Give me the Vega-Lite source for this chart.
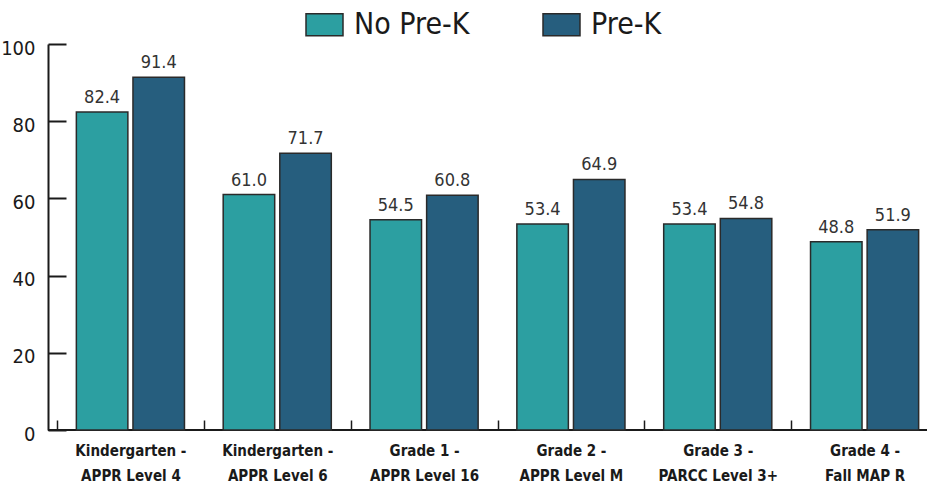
{
  "$schema": "https://vega.github.io/schema/vega-lite/v6.json",
  "width": 879,
  "height": 386,
  "autosize": {"type": "none"},
  "padding": {"left": 48, "top": 44, "right": 0, "bottom": 57},
  "background": "white",
  "config": {
    "font": "DejaVu Sans Condensed, Liberation Sans Narrow, sans-serif",
    "view": {"stroke": null}
  },
  "data": {
    "values": [
      {"cat": "Kindergarten -|APPR Level 4", "group": "No Pre-K", "value": 82.4},
      {"cat": "Kindergarten -|APPR Level 4", "group": "Pre-K", "value": 91.4},
      {"cat": "Kindergarten -|APPR Level 6", "group": "No Pre-K", "value": 61.0},
      {"cat": "Kindergarten -|APPR Level 6", "group": "Pre-K", "value": 71.7},
      {"cat": "Grade 1 -|APPR Level 16", "group": "No Pre-K", "value": 54.5},
      {"cat": "Grade 1 -|APPR Level 16", "group": "Pre-K", "value": 60.8},
      {"cat": "Grade 2 -|APPR Level M", "group": "No Pre-K", "value": 53.4},
      {"cat": "Grade 2 -|APPR Level M", "group": "Pre-K", "value": 64.9},
      {"cat": "Grade 3 -|PARCC Level 3+", "group": "No Pre-K", "value": 53.4},
      {"cat": "Grade 3 -|PARCC Level 3+", "group": "Pre-K", "value": 54.8},
      {"cat": "Grade 4 -|Fall MAP R", "group": "No Pre-K", "value": 48.8},
      {"cat": "Grade 4 -|Fall MAP R", "group": "Pre-K", "value": 51.9}
    ]
  },
  "encoding": {
    "x": {
      "field": "cat",
      "type": "nominal",
      "sort": null,
      "scale": {"range": [9, 890], "paddingInner": 0, "paddingOuter": 0},
      "axis": {
        "title": null,
        "labelAngle": 0,
        "labelExpr": "split(datum.label, '|')",
        "labelFontSize": 15,
        "labelFontWeight": "bold",
        "labelColor": "#1a1a1a",
        "labelLineHeight": 25,
        "labelPadding": 23,
        "labelBaseline": "top",
        "domain": false,
        "tickBand": "extent",
        "tickSize": -10,
        "tickColor": "#1a1a1a",
        "tickWidth": 1.5
      }
    },
    "xOffset": {
      "field": "group",
      "type": "nominal",
      "scale": {"paddingInner": 0.09, "paddingOuter": 0.342}
    }
  },
  "layer": [
    {
      "mark": {"type": "rule", "color": "#1a1a1a", "strokeWidth": 2},
      "data": {"values": [{"v": 0}]},
      "encoding": {"x": null, "xOffset": null, "y": {"field": "v", "type": "quantitative"}}
    },
    {
      "mark": {"type": "bar", "stroke": "#2a2a2a", "strokeWidth": 1.5},
      "encoding": {
        "y": {
          "field": "value",
          "type": "quantitative",
          "scale": {"domain": [0, 100]},
          "axis": {
            "title": null,
            "values": [0, 20, 40, 60, 80, 100],
            "grid": false,
            "domainColor": "#1a1a1a",
            "domainWidth": 2,
            "tickColor": "#1a1a1a",
            "tickWidth": 2,
            "tickSize": -18,
            "labelFontSize": 20,
            "labelColor": "#1a1a1a",
            "labelPadding": 31,
            "labelOffset": 4
          }
        },
        "color": {
          "field": "group",
          "type": "nominal",
          "scale": {"domain": ["No Pre-K", "Pre-K"], "range": ["#2c9fa1", "#265e7e"]},
          "legend": {
            "title": null,
            "orient": "none",
            "legendX": 257,
            "legendY": -39,
            "direction": "horizontal",
            "symbolType": "M-1,-0.6H1V0.6H-1Z",
            "symbolSize": 1369,
            "symbolStrokeColor": "#2a2a2a",
            "symbolStrokeWidth": 1.5,
            "symbolOpacity": 1,
            "labelFontSize": 30,
            "labelColor": "#1a1a1a",
            "labelOffset": 10,
            "columnPadding": 70
          }
        }
      }
    },
    {
      "mark": {"type": "text", "baseline": "bottom", "dy": -5, "fontSize": 18, "color": "#333333"},
      "encoding": {
        "y": {"field": "value", "type": "quantitative"},
        "text": {"field": "value", "type": "quantitative", "format": ".1f"}
      }
    }
  ]
}
